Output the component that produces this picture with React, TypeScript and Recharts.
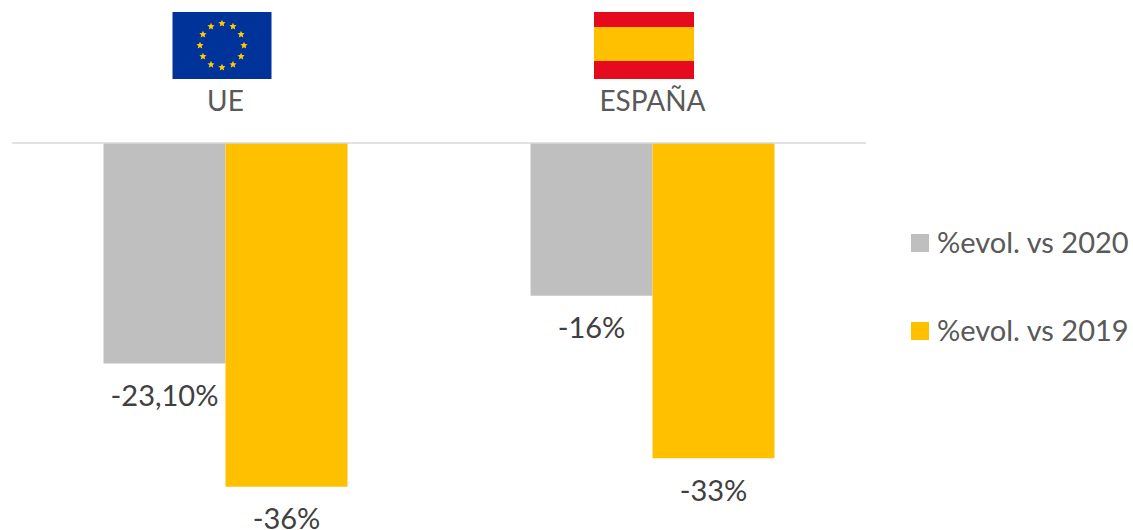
import { BarChart, Bar, XAxis, YAxis, LabelList } from 'recharts'

const categories = ['UE', 'ESPAÑA']
const evol2020 = [-23.1, -16]
const evol2019 = [-36, -33]
const labels2020 = ['-23,10%', '-16%']
const labels2019 = ['-36%', '-33%']
const seriesNames = ['%evol. vs 2020', '%evol. vs 2019']
const seriesColors = ['#BFBFBF', '#FFC000']

const FONT = 'Lato, "Open Sans", sans-serif'

const data = categories.map((name, i) => ({
  name,
  v2020: evol2020[i],
  v2019: evol2019[i],
  l2020: labels2020[i],
  l2019: labels2019[i],
}))

function euStarPoints(cx: number, cy: number, r: number) {
  const pts: string[] = []
  for (let i = 0; i < 10; i++) {
    const a = (Math.PI / 5) * i - Math.PI / 2
    const rad = i % 2 === 0 ? r : r * 0.45
    pts.push(`${cx + rad * Math.cos(a)},${cy + rad * Math.sin(a)}`)
  }
  return pts.join(' ')
}

function EuFlag({ x, y }: { x: number; y: number }) {
  const cx = x + 49.5
  const cy = y + 33.5
  return (
    <g>
      <rect x={x} y={y} width={99} height={67} fill="#003399" />
      {Array.from({ length: 12 }).map((_, i) => {
        const a = (Math.PI / 6) * i
        return (
          <polygon
            key={i}
            points={euStarPoints(cx + 22 * Math.sin(a), cy - 22 * Math.cos(a), 3.8)}
            fill="#FFCC00"
          />
        )
      })}
    </g>
  )
}

function SpainFlag({ x, y }: { x: number; y: number }) {
  return (
    <g>
      <rect x={x} y={y} width={100} height={67} fill="#E60A1E" />
      <rect x={x} y={y + 15} width={100} height={34} fill="#FFC000" />
    </g>
  )
}

function CategoryTick({ x, payload }: any) {
  const isEu = payload.value === 'UE'
  return (
    <g>
      {isEu ? <EuFlag x={x - 53} y={12} /> : <SpainFlag x={x - 58.5} y={12} />}
      <text
        x={x}
        y={111}
        textAnchor="middle"
        fontFamily={FONT}
        fontSize={28}
        fill="#595959"
      >
        {payload.value}
      </text>
    </g>
  )
}

function SideLegend() {
  return (
    <div style={{ position: 'absolute', left: 911, top: 225, width: 222, height: 124, fontFamily: FONT }}>
      {seriesNames.map((name, i) => (
        <div
          key={name}
          style={{ position: 'absolute', left: 0, top: i * 88, height: 36, display: 'flex', alignItems: 'center' }}
        >
          <span style={{ width: 18, height: 18, background: seriesColors[i], marginRight: 8 }} />
          <span style={{ fontSize: 29, color: '#595959', whiteSpace: 'nowrap', position: 'relative', top: -2 }}>{name}</span>
        </div>
      ))}
    </div>
  )
}

export default function App() {
  return (
    <div style={{ position: 'absolute', left: 0, top: 0, width: 1133, height: 530, background: '#fff', overflow: 'hidden' }}>
      <BarChart
        width={1133}
        height={530}
        data={data}
        margin={{ top: 0, right: 267, left: 12, bottom: 5 }}
        barCategoryGap={91.5}
        barGap={0}
      >
        <XAxis
          dataKey="name"
          orientation="top"
          height={143}
          axisLine={{ stroke: '#D9D9D9', strokeWidth: 1.5 }}
          tickLine={false}
          tick={<CategoryTick />}
          interval={0}
        />
        <YAxis hide domain={[-40, 0]} />
        <Bar dataKey="v2020" fill={seriesColors[0]} isAnimationActive={false}>
          <LabelList dataKey="l2020" position="top" offset={22} fontFamily={FONT} fontSize={29} fill="#404040" />
        </Bar>
        <Bar dataKey="v2019" fill={seriesColors[1]} isAnimationActive={false}>
          <LabelList dataKey="l2019" position="top" offset={22} fontFamily={FONT} fontSize={29} fill="#404040" />
        </Bar>
      </BarChart>
      <SideLegend />
    </div>
  )
}
